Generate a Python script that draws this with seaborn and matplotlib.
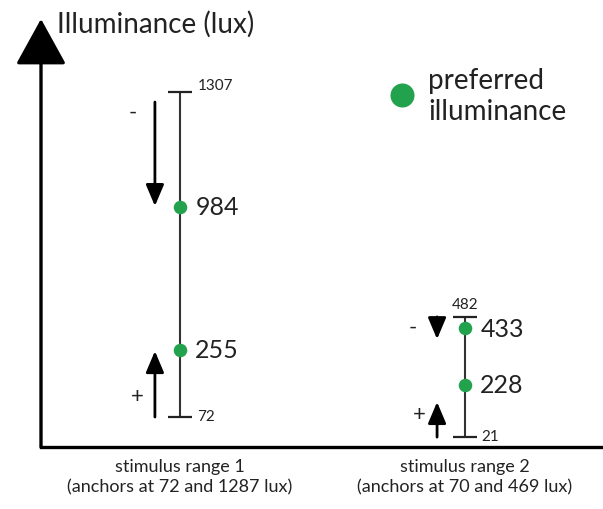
import pandas as pd
import matplotlib
matplotlib.use("Agg")
import matplotlib.pyplot as plt
import seaborn as sns

# ------------------------------------------------------------
# Data (heights are schematic, 0-100 scale as drawn)
# ------------------------------------------------------------
range_x = [1, 2]
range_labels = ["stimulus range 1\n(anchors at 72 and 1287 lux)",
                "stimulus range 2\n(anchors at 70 and 469 lux)"]
range_low = [72, 21]
range_high = [1307, 482]
low_height = [7.0, 2.3]
high_height = [82.9, 30.4]

pref_range = [1, 1, 2, 2]
pref_lux = [984, 255, 433, 228]
pref_height = [56.1, 22.7, 27.8, 14.5]

# decrease ("-") and increase ("+") arrows per range
arrow_x = [0.912, 1.902]
down_from = [80.6, 30.4]
down_to = [56.3, 25.2]
up_from = [7.0, 2.3]
up_to = [22.4, 10.5]

green = "#22a24c"
text_col = "#222222"

# ------------------------------------------------------------
# Figure
# ------------------------------------------------------------
sns.set_style("white")
plt.rcParams["font.family"] = ["Lato", "DejaVu Sans"]

fig = plt.figure(figsize=(6.03, 5.10), dpi=100)
ax = fig.add_axes([0.068, 0.1216, 0.932, 0.8392])
ax.set_xlim(0.5123, 2.4842)
ax.set_ylim(0, 100)

# range bars with caps
for x, lo, hi, lo_lux, hi_lux in zip(range_x, low_height, high_height, range_low, range_high):
    ax.vlines(x, lo, hi, color="#333333", lw=1.5, zorder=1)
    ax.plot([x, x], [lo, hi], ls="none", marker="_", ms=17.5, mew=1.6, color="#222222", zorder=1)
    ax.annotate(str(lo_lux), (x, lo), xytext=(12, 1), textcoords="offset points",
                ha="left", va="center", fontsize=11, color=text_col)
    if x == 1:
        ax.annotate(str(hi_lux), (x, hi), xytext=(13, 5), textcoords="offset points",
                    ha="left", va="center", fontsize=11, color=text_col)
    else:
        ax.annotate(str(hi_lux), (x, hi), xytext=(0, 9), textcoords="offset points",
                    ha="center", va="center", fontsize=11, color=text_col)

# preferred illuminance points
pref = pd.DataFrame({"x": pref_range, "y": pref_height, "lux": pref_lux})
sns.scatterplot(data=pref, x="x", y="y", color=green, s=95, linewidth=0, zorder=3, ax=ax)
for x, y, lux in zip(pref_range, pref_height, pref_lux):
    ax.annotate(str(lux), (x, y), xytext=(11, 0), textcoords="offset points",
                ha="left", va="center", fontsize=18, color=text_col)

# direction arrows
for i in range(2):
    ax.annotate("", xy=(arrow_x[i], down_to[i]), xytext=(arrow_x[i], down_from[i]),
                arrowprops=dict(arrowstyle="-|>,head_length=1.3,head_width=0.55",
                                mutation_scale=10, lw=2, color="black", shrinkA=0, shrinkB=0))
    ax.annotate("", xy=(arrow_x[i], up_to[i]), xytext=(arrow_x[i], up_from[i]),
                arrowprops=dict(arrowstyle="-|>,head_length=1.3,head_width=0.55",
                                mutation_scale=10, lw=2, color="black", shrinkA=0, shrinkB=0))

ax.text(0.835, 78.3, "-", ha="center", va="center", fontsize=16, color=text_col)
ax.text(0.849, 11.9, "+", ha="center", va="center", fontsize=16, color=text_col)
ax.text(1.818, 28.0, "-", ha="center", va="center", fontsize=16, color=text_col)
ax.text(1.839, 7.7, "+", ha="center", va="center", fontsize=16, color=text_col)

# legend
ax.scatter([0.642], [0.822], s=300, color=green, linewidth=0, transform=ax.transAxes, clip_on=False)
ax.text(0.689, 0.822, "preferred\nilluminance", transform=ax.transAxes,
        ha="left", va="center", fontsize=20, linespacing=1.25, color=text_col)

# axes
for side in ["top", "right", "left"]:
    ax.spines[side].set_visible(False)
ax.spines["bottom"].set_linewidth(2.4)
ax.spines["bottom"].set_color("black")
ax.annotate("", xy=(0, 1), xytext=(0, 0), xycoords="axes fraction", textcoords="axes fraction",
            arrowprops=dict(arrowstyle="-|>,head_length=2.9,head_width=1.6", mutation_scale=10,
                            lw=2.4, color="black", shrinkA=0, shrinkB=0), annotation_clip=False)
fig.text(57 / 603, 1 - 24 / 510, "Illuminance (lux)", ha="left", va="center",
         fontsize=20, color=text_col)

ax.set_xticks(range_x, range_labels)
ax.tick_params(axis="x", length=0, pad=8, labelsize=13, labelcolor=text_col)
for lbl in ax.get_xticklabels():
    lbl.set_linespacing(1.3)
ax.set_yticks([])
ax.set_xlabel("")
ax.set_ylabel("")

plt.savefig("out.png", dpi=100)
